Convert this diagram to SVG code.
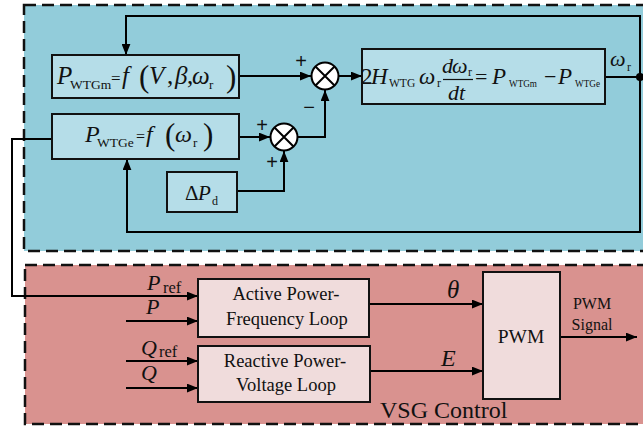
<svg xmlns="http://www.w3.org/2000/svg" width="643" height="427" viewBox="0 0 643 427" font-family="'Liberation Serif', 'Times New Roman', serif">
<style>
.reg{stroke:#111;stroke-width:2.5;stroke-dasharray:12 6}
.blk{fill:#B5DDE8;stroke:#111;stroke-width:2}
.pk{fill:#F0DCDC;stroke:#111;stroke-width:2}
.ln{fill:none;stroke:#000;stroke-width:2}
.ar{marker-end:url(#arr)}
text{font-family:'Liberation Serif','Times New Roman',serif;fill:#111}
.it{font-style:italic}
.sg{font-family:'Liberation Sans',Arial,sans-serif;font-size:20px;text-anchor:middle}
</style>
<defs>
<marker id="arr" viewBox="0 0 10 8" refX="10" refY="4" markerWidth="11" markerHeight="9" markerUnits="userSpaceOnUse" orient="auto">
<path d="M0,0 L10,4 L0,8 Z" fill="#000"/>
</marker>
</defs>
<rect width="643" height="427" fill="#fff"/>
<g id="wtg-region">
<rect class="reg" x="24" y="5" width="650" height="246" fill="#92CCDA"/>
</g>
<g id="vsg-region">
<rect class="reg" x="25" y="265" width="650" height="159" fill="#D9928F"/>
<text x="380" y="418" font-size="24">VSG Control</text>
</g>
<g id="connectors">
<path class="ln ar" d="M640,77 V16 H126 V55"/>
<path class="ln ar" d="M640,77 V232 H127 V159"/>
<path class="ln" d="M604,77 H640"/>
<circle cx="640" cy="77" r="4" fill="#000"/>
<path class="ln ar" d="M239,76 H311"/>
<path class="ln ar" d="M339,76 H362"/>
<path class="ln ar" d="M297,137 H325 V90"/>
<path class="ln ar" d="M239,137 H270"/>
<path class="ln ar" d="M237,191 H284 V151"/>
<path class="ln ar" d="M52,139 H12 V296 H198"/>
<path class="ln ar" d="M126,321 H198"/>
<path class="ln ar" d="M126,361 H198"/>
<path class="ln ar" d="M126,388 H198"/>
<path class="ln ar" d="M369,304 H483"/>
<path class="ln ar" d="M370,371 H483"/>
<path class="ln ar" d="M560,337 H637"/>
<text class="sg" x="301" y="68">+</text>
<text class="sg" x="309" y="114">−</text>
<text class="sg" x="262" y="132">+</text>
<text class="sg" x="272" y="169">+</text>
<text font-size="22"><tspan class="it" x="610" y="66">ω</tspan><tspan x="627" y="71" font-size="12">r</tspan></text>
<text font-size="22"><tspan class="it" x="147" y="290">P</tspan><tspan x="163" y="293" font-size="16.5">ref</tspan></text>
<text class="it" x="146" y="314" font-size="22">P</text>
<text font-size="22"><tspan class="it" x="141" y="355">Q</tspan><tspan x="159" y="357" font-size="16.5">ref</tspan></text>
<text class="it" x="141" y="380" font-size="22">Q</text>
<text class="it" x="447" y="298" font-size="25">θ</text>
<text class="it" x="441" y="366" font-size="24">E</text>
<text x="592" y="309" font-size="16" text-anchor="middle">PWM</text>
<text x="592" y="330" font-size="16" text-anchor="middle">Signal</text>
</g>
<g id="pwtgm">
<rect class="blk" x="52" y="55" width="187" height="43"/>
<text font-size="25"><tspan class="it" x="57" y="84">P</tspan><tspan x="70" y="89" font-size="13.5">WTGm</tspan><tspan x="111" y="84" font-size="17">=</tspan><tspan class="it" x="122" y="84">f</tspan><tspan x="139" y="87" font-size="31">(</tspan><tspan class="it" x="149" y="84">V</tspan><tspan x="167" y="84">,</tspan><tspan class="it" x="175" y="84">β</tspan><tspan x="187" y="84">,</tspan><tspan class="it" x="192" y="84">ω</tspan><tspan x="209" y="89" font-size="13">r</tspan><tspan x="226" y="87" font-size="31">)</tspan></text>
</g>
<g id="pwtge">
<rect class="blk" x="52" y="114" width="187" height="45"/>
<text font-size="24"><tspan class="it" x="85" y="142">P</tspan><tspan x="97" y="147" font-size="13.5">WTGe</tspan><tspan x="136" y="142" font-size="16">=</tspan><tspan class="it" x="146" y="142">f</tspan><tspan x="165" y="145" font-size="31">(</tspan><tspan class="it" x="175" y="142">ω</tspan><tspan x="193" y="147" font-size="13">r</tspan><tspan x="203" y="145" font-size="31">)</tspan></text>
</g>
<g id="delta-pd">
<rect class="blk" x="167" y="172" width="70" height="40"/>
<text font-size="21"><tspan x="185" y="200">Δ</tspan><tspan class="it" x="198" y="200">P</tspan><tspan x="212" y="205" font-size="12">d</tspan></text>
</g>
<g id="sum1">
<circle cx="325" cy="76" r="13.5" fill="#fff" stroke="#000" stroke-width="2"/>
<path d="M315.5,66.5 L334.5,85.5 M334.5,66.5 L315.5,85.5" stroke="#000" stroke-width="2"/>
</g>
<g id="sum2">
<circle cx="284" cy="137" r="13.5" fill="#fff" stroke="#000" stroke-width="2"/>
<path d="M274.5,127.5 L293.5,146.5 M293.5,127.5 L274.5,146.5" stroke="#000" stroke-width="2"/>
</g>
<g id="swing">
<rect class="blk" x="362" y="49" width="243" height="55"/>
<text font-size="23"><tspan x="361" y="84">2</tspan><tspan class="it" x="371" y="84">H</tspan><tspan x="389" y="87" font-size="11.5">WTG</tspan><tspan class="it" x="419" y="84">ω</tspan><tspan x="437" y="87" font-size="12">r</tspan></text>
<text font-size="22"><tspan class="it" x="442" y="73">d</tspan><tspan class="it" x="452" y="73">ω</tspan><tspan x="468" y="76" font-size="12">r</tspan></text>
<path d="M443,79.5 H473" stroke="#111" stroke-width="1.2"/>
<text class="it" x="448" y="100" font-size="22">dt</text>
<text font-size="23"><tspan x="475" y="84" font-size="22">=</tspan><tspan class="it" x="492" y="84">P</tspan><tspan x="509" y="87" font-size="11" textLength="28" lengthAdjust="spacingAndGlyphs">WTGm</tspan><tspan x="544" y="84" font-size="22">−</tspan><tspan class="it" x="558" y="84">P</tspan><tspan x="575" y="87" font-size="11" textLength="25" lengthAdjust="spacingAndGlyphs">WTGe</tspan></text>
</g>
<g id="active-loop">
<rect class="pk" x="198" y="279" width="171" height="58"/>
<text x="286" y="300" font-size="18.5" text-anchor="middle">Active Power-</text>
<text x="287" y="325" font-size="18.5" text-anchor="middle">Frequency Loop</text>
</g>
<g id="reactive-loop">
<rect class="pk" x="198" y="346" width="172" height="56"/>
<text x="285" y="367" font-size="18.5" text-anchor="middle">Reactive Power-</text>
<text x="286" y="391" font-size="18.5" text-anchor="middle">Voltage Loop</text>
</g>
<g id="pwm">
<rect class="pk" x="483" y="272" width="77" height="127"/>
<text x="521" y="343" font-size="19.5" text-anchor="middle">PWM</text>
</g>
</svg>
